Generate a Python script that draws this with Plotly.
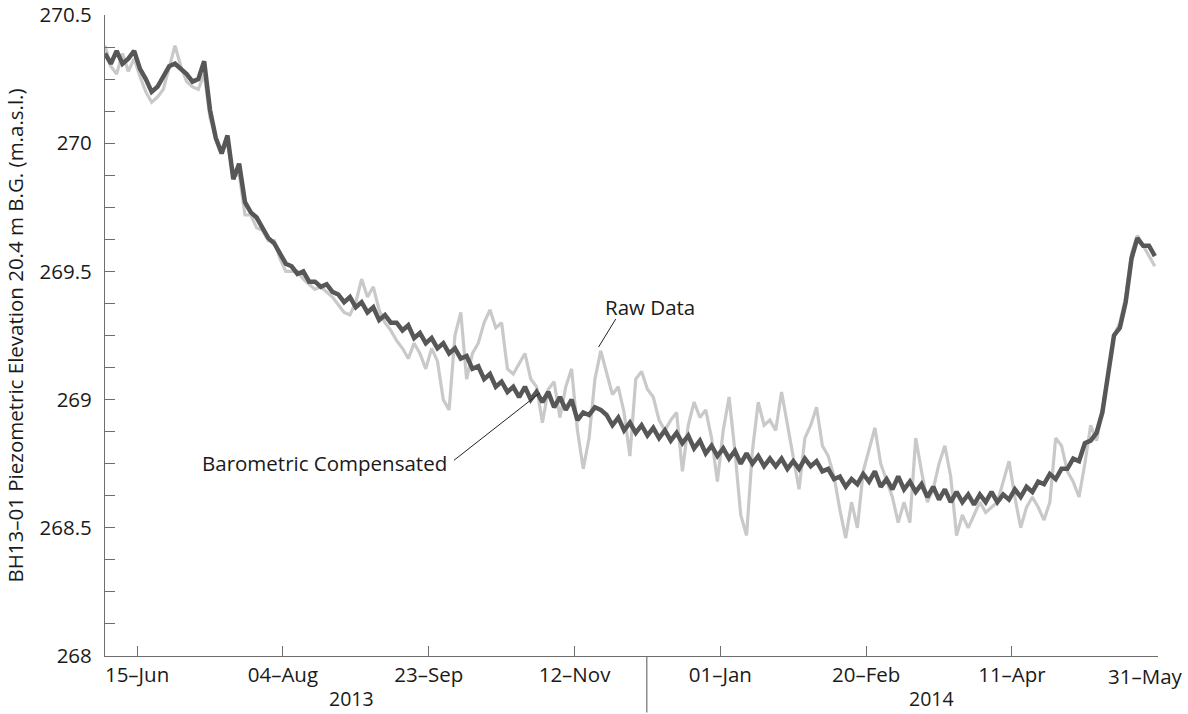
import pandas as pd
import plotly.graph_objects as go

# ---- data (one value every 2 days from 2013-06-04) ----
start_date = "2013-06-04"
n_points = 181

compensated = [
    270.35, 270.31, 270.36, 270.31, 270.33, 270.36, 270.29, 270.25, 270.20, 270.22,
    270.26, 270.30, 270.31, 270.29, 270.27, 270.24, 270.25, 270.32, 270.13, 270.02,
    269.96, 270.03, 269.86, 269.92, 269.77, 269.73, 269.71, 269.67, 269.63, 269.61,
    269.57, 269.53, 269.52, 269.49, 269.50, 269.46, 269.46, 269.44, 269.45, 269.42,
    269.41, 269.38, 269.40, 269.36, 269.38, 269.34, 269.36, 269.31, 269.33, 269.30,
    269.30, 269.27, 269.29, 269.24, 269.26, 269.22, 269.24, 269.20, 269.22, 269.18,
    269.20, 269.16, 269.17, 269.12, 269.13, 269.08, 269.10, 269.05, 269.07, 269.03,
    269.05, 269.01, 269.05, 269.00, 269.03, 268.99, 269.03, 268.97, 269.01, 268.96,
    269.00, 268.92, 268.95, 268.94, 268.97, 268.96, 268.94, 268.90, 268.93, 268.88,
    268.91, 268.87, 268.90, 268.86, 268.89, 268.85, 268.88, 268.84, 268.87, 268.83,
    268.86, 268.81, 268.84, 268.79, 268.82, 268.78, 268.81, 268.77, 268.80, 268.75,
    268.79, 268.75, 268.78, 268.74, 268.77, 268.74, 268.77, 268.73, 268.76, 268.73,
    268.77, 268.74, 268.76, 268.72, 268.73, 268.69, 268.70, 268.66, 268.69, 268.67,
    268.71, 268.68, 268.72, 268.66, 268.69, 268.65, 268.70, 268.65, 268.68, 268.64,
    268.67, 268.62, 268.66, 268.61, 268.65, 268.60, 268.64, 268.60, 268.63, 268.59,
    268.63, 268.60, 268.64, 268.60, 268.63, 268.61, 268.65, 268.62, 268.66, 268.64,
    268.68, 268.67, 268.71, 268.69, 268.73, 268.73, 268.77, 268.76, 268.83, 268.84,
    268.87, 268.95, 269.10, 269.25, 269.28, 269.38, 269.55, 269.63, 269.60, 269.60,
    269.56,
]

raw = [
    270.38, 270.30, 270.27, 270.35, 270.28, 270.33, 270.26, 270.20, 270.16, 270.18,
    270.21, 270.30, 270.38, 270.30, 270.24, 270.22, 270.21, 270.27, 270.10, 270.02,
    269.97, 270.00, 269.87, 269.88, 269.72, 269.72, 269.67, 269.66, 269.62, 269.62,
    269.55, 269.50, 269.50, 269.50, 269.47, 269.45, 269.43, 269.44, 269.42, 269.40,
    269.37, 269.34, 269.33, 269.38, 269.47, 269.40, 269.44, 269.35, 269.30, 269.27,
    269.23, 269.20, 269.16, 269.22, 269.18, 269.12, 269.20, 269.15, 269.00, 268.96,
    269.25, 269.34, 269.08, 269.18, 269.22, 269.30, 269.35, 269.28, 269.30, 269.12,
    269.10, 269.14, 269.18, 269.08, 269.05, 268.91, 269.04, 269.07, 268.93, 269.05,
    269.12, 268.88, 268.73, 268.85, 269.08, 269.19, 269.10, 269.02, 269.05, 268.95,
    268.78, 269.08, 269.11, 269.04, 269.01, 268.92, 268.88, 268.92, 268.95, 268.72,
    268.90, 268.99, 268.93, 268.96, 268.85, 268.68, 268.88, 269.01, 268.80, 268.55,
    268.47, 268.80, 268.99, 268.90, 268.92, 268.88, 269.03, 268.90, 268.78, 268.65,
    268.85, 268.90, 268.97, 268.82, 268.78, 268.70, 268.57, 268.46, 268.60, 268.50,
    268.72, 268.80, 268.89, 268.75, 268.68, 268.62, 268.52, 268.60, 268.52, 268.85,
    268.72, 268.60, 268.65, 268.75, 268.82, 268.70, 268.47, 268.55, 268.50, 268.55,
    268.60, 268.56, 268.58, 268.60, 268.68, 268.76, 268.62, 268.50, 268.58, 268.62,
    268.58, 268.53, 268.60, 268.85, 268.82, 268.72, 268.68, 268.62, 268.75, 268.90,
    268.84, 268.96, 269.10, 269.25, 269.30, 269.40, 269.57, 269.64, 269.60, 269.56,
    269.52,
]

tick_dates = ["2013-06-15", "2013-08-04", "2013-09-23", "2013-11-12",
              "2014-01-01", "2014-02-20", "2014-04-11", "2014-05-31"]
tick_labels = ["15\u2013Jun", "04\u2013Aug", "23\u2013Sep", "12\u2013Nov",
               "01\u2013Jan", "20\u2013Feb", "11\u2013Apr", "31\u2013May"]
year_labels = ["2013", "2014"]
year_split = "2013-12-06 19:00"

y_ticks = [268, 268.5, 269, 269.5, 270, 270.5]
y_ticklabels = ["268", "268.5", "269", "269.5", "270", "270.5"]

dates = pd.date_range(start_date, periods=n_points, freq="2D")

FONT = "Open Sans"
AXC = "#6e6e6e"
FS = 20.5

fig = go.Figure()
fig.add_trace(go.Scatter(x=dates, y=raw, mode="lines", name="Raw Data",
                         line=dict(color="#c9c9c9", width=3.2), showlegend=False))
fig.add_trace(go.Scatter(x=dates, y=compensated, mode="lines",
                         name="Barometric Compensated",
                         line=dict(color="#575757", width=4.5), showlegend=False))

# last tick label is drawn separately, pulled inside the figure like the original
shown_ticktext = tick_labels[:-1] + [""]

fig.update_layout(
    width=1188, height=714,
    margin=dict(l=105, r=30, t=15, b=58),
    paper_bgcolor="white", plot_bgcolor="white",
    font=dict(family=FONT, size=FS, color="#1a1a1a"),
    xaxis=dict(
        range=["2013-06-04", "2014-05-31 02:00"],
        tickvals=tick_dates, ticktext=shown_ticktext,
        ticks="inside", ticklen=10, tickcolor=AXC, tickwidth=1,
        showline=True, linecolor=AXC, linewidth=1.2,
        showgrid=False, zeroline=False, automargin=False,
        tickfont=dict(size=FS, family=FONT),
    ),
    yaxis=dict(
        range=[268, 270.5],
        tickvals=y_ticks, ticktext=y_ticklabels,
        ticks="inside", ticklen=10, tickcolor=AXC, tickwidth=1,
        minor=dict(dtick=0.125, ticks="inside", ticklen=10, tickcolor=AXC),
        showline=True, linecolor=AXC, linewidth=1.2,
        showgrid=False, zeroline=False, automargin=False,
        ticklabelstandoff=8,
        tickfont=dict(size=FS, family=FONT),
        title=dict(text="BH13\u201301 Piezometric Elevation 20.4 m B.G. (m.a.s.l.)",
                   font=dict(size=20.5, family=FONT), standoff=10),
    ),
)

fig.add_annotation(text=tick_labels[-1], xref="paper", yref="paper", x=0.9877, y=-0.031,
                   xanchor="center", yanchor="middle", showarrow=False,
                   font=dict(size=FS, family=FONT))

# year separator and year labels
fig.add_shape(type="line", xref="x", yref="paper", x0=year_split, x1=year_split,
              y0=0, y1=-0.088, line=dict(color=AXC, width=1.2))
fig.add_annotation(text=year_labels[0], xref="paper", yref="paper", x=0.234, y=-0.066,
                   xanchor="center", yanchor="middle",
                   showarrow=False, font=dict(size=19.5, family=FONT))
fig.add_annotation(text=year_labels[1], xref="paper", yref="paper", x=0.785, y=-0.066,
                   xanchor="center", yanchor="middle",
                   showarrow=False, font=dict(size=19.5, family=FONT))

# series labels with leader lines
fig.add_annotation(text="Raw Data", xref="paper", yref="paper", x=0.5176, y=0.5445,
                   xanchor="center", yanchor="middle",
                   showarrow=False, font=dict(size=FS, family=FONT))
fig.add_annotation(text=" ", x="2013-11-20 06:00", y=269.205, xref="x", yref="y",
                   showarrow=True, arrowhead=0, arrowwidth=1, arrowcolor="#222",
                   ax=19, ay=-31, font=dict(size=2))
fig.add_annotation(text="Barometric Compensated", xref="paper", yref="paper",
                   x=0.3267, y=0.301, xanchor="right", yanchor="middle", showarrow=False,
                   font=dict(size=FS, family=FONT))
fig.add_annotation(text=" ", x="2013-10-31 03:00", y=269.026, xref="x", yref="y",
                   showarrow=True, arrowhead=0, arrowwidth=1, arrowcolor="#222",
                   ax=-88, ay=69, font=dict(size=2))

fig.write_html("out.html")
